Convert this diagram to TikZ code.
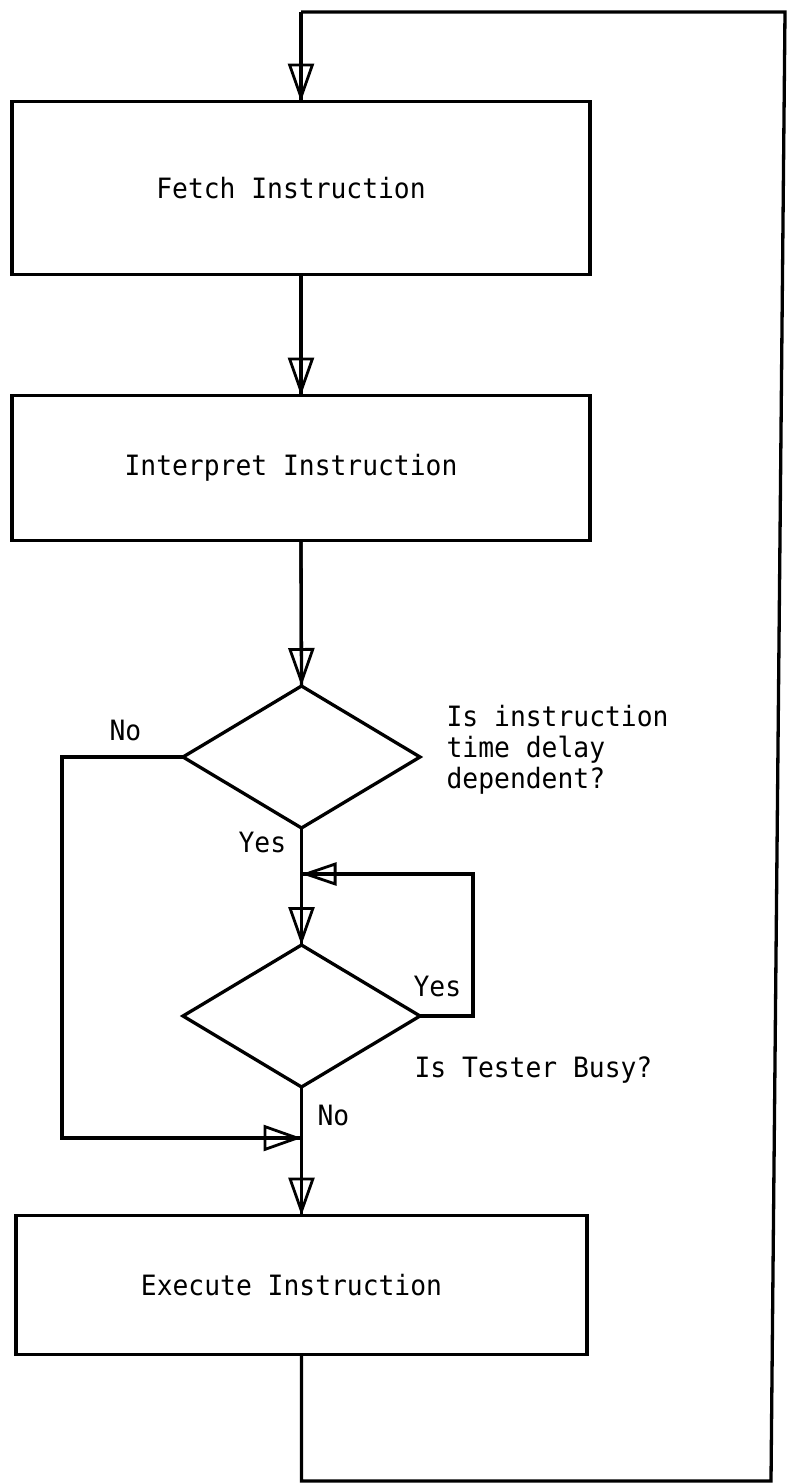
\documentclass[tikz,border=0pt]{standalone}
\usepackage{fontspec}
\newfontfamily\flowfont[FakeStretch=0.94]{DejaVu Sans Mono}
\usetikzlibrary{arrows.meta,shapes.geometric}
\begin{document}
\begin{tikzpicture}[x=1pt,y=-1pt,
  line width=3.3pt, line join=miter,
  every node/.style={font=\flowfont\fontsize{28}{31}\selectfont},
  procbox/.style={draw, rectangle, inner sep=0pt, outer sep=0pt, execute at begin node={\hspace*{-20pt}}},
  decision/.style={draw, diamond, aspect=1.67, minimum width=237pt, minimum height=142pt, inner sep=0pt, outer sep=0pt},
  lbl/.style={anchor=base west, inner sep=0pt},
  arr/.style={preaction={draw,-}, -{Triangle[open,length=38pt,width=26pt,line width=2.8pt]}},
  arrs/.style={preaction={draw,-}, -{Triangle[open,length=35pt,width=23pt,line width=2.8pt]}}
]
\useasboundingbox (0,0) rectangle (788,1484);

% process boxes
\node[procbox, minimum width=578pt, minimum height=173pt] (fetch) at (301,188) {Fetch Instruction};
\node[procbox, minimum width=578pt, minimum height=145pt] (interp) at (301,468) {Interpret Instruction};
\node[procbox, minimum width=571pt, minimum height=139pt] (exec) at (301.5,1285) {Execute Instruction};

% decisions
\node[decision] (d1) at (301.5,757) {};
\node[decision] (d2) at (301.5,1016) {};

% junctions and corners
\coordinate (j1) at (301.5,874);
\coordinate (j2) at (301.5,1138);
\coordinate (l1) at (473,1016);
\coordinate (l2) at (473,874);
\coordinate (n1) at (62,757);
\coordinate (n2) at (62,1138);
\coordinate (c1) at (301.5,1481);
\coordinate (c2) at (771,1481);
\coordinate (c3) at (785,12);
\coordinate (c4) at (301,12);

% labels
\node[lbl] (tno1) at (108,740.7) {No};
\node[lbl] (tyes1) at (237,852) {Yes};
\node[anchor=north west, inner sep=0pt, align=left] (q1) at (445,704) {Is instruction\\time delay\\dependent?};
\node[lbl] (tyes2) at (412,996.7) {Yes};
\node[lbl] (q2) at (413,1077) {Is Tester Busy?};
\node[lbl] (tno2) at (316,1125) {No};

% connectors
\draw[arr] (c4) -- (fetch.north);
\draw[arr] (fetch.south) -- (interp.north);
\draw[arr] (interp.south) -- (d1.north);
\draw (d1.south) -- (j1);
\draw[arr] (j1) -- (d2.north);
\draw[arrs] (d2.east) -- (l1) -- (l2) -- (j1);
\draw[arr] (d1.west) -- (n1) -- (n2) -- (j2);
\draw (d2.south) -- (j2);
\draw[arr] (j2) -- (exec.north);
\draw (exec.south) -- (c1) -- (c2) -- (c3) -- (c4);
\end{tikzpicture}
\end{document}
